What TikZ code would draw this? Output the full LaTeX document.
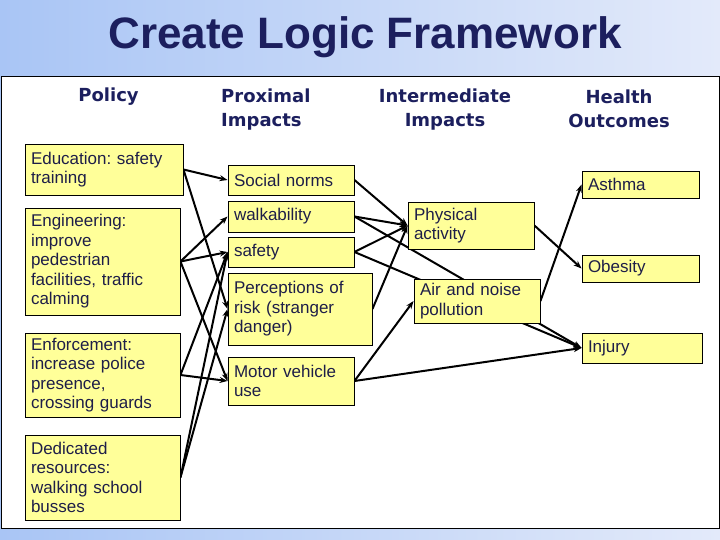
\documentclass[tikz,border=0pt]{standalone}
\usepackage{fontspec}
\setmainfont{Liberation Sans}
\newfontfamily\headfont{DejaVu Sans}
\usetikzlibrary{backgrounds,arrows.meta}
\definecolor{navy}{HTML}{1C1F5E}
\definecolor{boxtext}{HTML}{1E1E48}
\definecolor{boxfill}{HTML}{FFFF99}
\definecolor{bgleft}{HTML}{A9C5F5}
\definecolor{bgright}{HTML}{E3EAFA}
\frenchspacing

\begin{document}
\begin{tikzpicture}[x=1pt,y=-1pt,>={Stealth[length=8pt,width=6pt]},
  box/.style={draw,fill=boxfill,line width=0.9pt,align=left,inner xsep=6pt,inner ysep=2pt,
    text=boxtext,font=\fontsize{17}{19.5}\selectfont},
  head/.style={text=navy,inner sep=0pt,font=\headfont\bfseries\fontsize{18}{24}\selectfont},
  link/.style={->,line width=2pt}]
  \useasboundingbox (0,0) rectangle (720,540);
  \node[text=navy,font=\bfseries\fontsize{44}{50}\selectfont] (title) at (365,37) {Create Logic Framework};
  % column headings
  \node[head] (hpol) at (108.5,97) {Policy};
  \node[head,align=left,anchor=west] (hprox) at (221,110) {Proximal\\Impacts};
  \node[head,align=center] (hint) at (445,110) {Intermediate\\Impacts};
  \node[head,align=center] (hout) at (619,109) {Health\\Outcomes};
  % policy
  \node[box,text width=146pt,minimum height=51pt] (edu) at (104,169.5) {Education: safety\\training};
  \node[box,text width=143pt,minimum height=107pt] (eng) at (102.5,261.5) {Engineering:\\improve\\pedestrian\\facilities, traffic\\calming};
  \node[box,text width=143pt,minimum height=84pt] (enf) at (102.5,375) {Enforcement:\\increase police\\presence,\\crossing guards};
  \node[box,text width=143pt,minimum height=85pt] (ded) at (102.5,477.5) {Dedicated\\resources:\\walking school\\busses};
  % proximal impacts
  \node[box,text width=114pt,minimum height=30pt] (soc) at (291,180) {Social norms};
  \node[box,text width=114pt,minimum height=31pt] (walk) at (291,216.5) {walkability};
  \node[box,text width=114pt,minimum height=30pt] (safe) at (291,252) {safety};
  \node[box,text width=132pt,minimum height=72pt] (perc) at (300,309) {Perceptions of\\risk (stranger\\danger)};
  \node[box,text width=114pt,minimum height=48pt] (motor) at (291,381) {Motor vehicle\\use};
  % intermediate impacts
  \node[box,text width=114pt,minimum height=47pt] (phys) at (471,225.5) {Physical\\activity};
  \node[box,text width=114pt,minimum height=44pt] (air) at (477,301) {Air and noise\\pollution};
  % health outcomes
  \node[box,text width=105pt,minimum height=27pt] (asth) at (640.5,184.5) {Asthma};
  \node[box,text width=105pt,minimum height=27pt] (obes) at (640.5,268.5) {Obesity};
  \node[box,text width=108pt,minimum height=30pt] (inj) at (642,348) {Injury};
  \begin{scope}[on background layer]
    \shade[left color=bgleft,right color=bgright] (0,0) rectangle (720,540);
    \draw[fill=white,line width=1pt] (1,77) rectangle (719,528);
    \foreach \a/\b in {edu.east/soc.west,edu.east/perc.west,
        eng.east/walk.west,eng.east/safe.west,eng.east/motor.west,
        enf.east/safe.west,enf.east/motor.west,
        ded.east/safe.west,ded.east/perc.west,
        soc.east/phys.west,walk.east/phys.west,walk.east/inj.west,
        safe.east/phys.west,safe.east/inj.west,perc.east/phys.west,
        motor.east/air.west,motor.east/inj.west,
        phys.east/obes.west,air.east/asth.west}
      \draw[link] (\a) -- (\b);
  \end{scope}
\end{tikzpicture}
\end{document}
